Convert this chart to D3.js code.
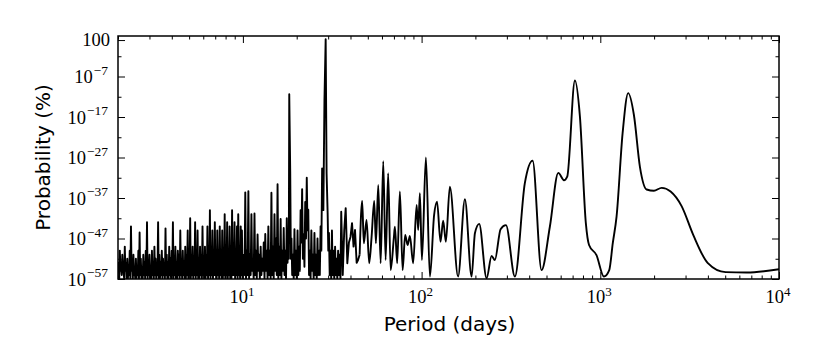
<!DOCTYPE html>
<html>
<head>
<meta charset="utf-8">
<script src="https://cdn.jsdelivr.net/npm/d3@7"></script>
<style>
  body { margin: 0; background: #fff; }
  svg { display: block; }
  .tick-label { font-family: "Liberation Serif", "DejaVu Serif", serif; fill: #000; }
  .axis-title { font-family: "DejaVu Sans", sans-serif; font-size: 20px; fill: #000; }
</style>
</head>
<body>
<svg id="chart" width="830" height="364"></svg>
<script>
// periods in days, probability given as log10 of percent

// short periods: dense noise floor
var noisePeriods = [2.000, 2.016, 2.032, 2.048, 2.065, 2.081, 2.098, 2.114, 2.131, 2.148,
  2.166, 2.183, 2.200, 2.218, 2.236, 2.254, 2.272, 2.290, 2.308, 2.326,
  2.345, 2.364, 2.383, 2.402, 2.421, 2.440, 2.460, 2.479, 2.499, 2.519,
  2.539, 2.559, 2.580, 2.600, 2.621, 2.642, 2.663, 2.684, 2.706, 2.727,
  2.749, 2.771, 2.793, 2.815, 2.838, 2.860, 2.883, 2.906, 2.930, 2.953,
  2.976, 3.000, 3.024, 3.048, 3.073, 3.097, 3.122, 3.147, 3.172, 3.197,
  3.223, 3.248, 3.274, 3.300, 3.327, 3.353, 3.380, 3.407, 3.434, 3.461,
  3.489, 3.517, 3.545, 3.573, 3.602, 3.631, 3.660, 3.689, 3.718, 3.748,
  3.778, 3.808, 3.838, 3.869, 3.900, 3.931, 3.962, 3.994, 4.026, 4.058,
  4.090, 4.123, 4.156, 4.189, 4.222, 4.256, 4.290, 4.324, 4.359, 4.393,
  4.428, 4.463, 4.499, 4.535, 4.571, 4.608, 4.645, 4.682, 4.719, 4.757,
  4.795, 4.833, 4.871, 4.910, 4.949, 4.989, 5.029, 5.069, 5.109, 5.150,
  5.191, 5.232, 5.274, 5.316, 5.359, 5.402, 5.445, 5.488, 5.532, 5.576,
  5.620, 5.665, 5.710, 5.756, 5.802, 5.848, 5.895, 5.942, 5.989, 6.037,
  6.085, 6.133, 6.182, 6.231, 6.281, 6.331, 6.382, 6.433, 6.484, 6.536,
  6.588, 6.640, 6.693, 6.746, 6.800, 6.854, 6.909, 6.964, 7.020, 7.076,
  7.132, 7.189, 7.246, 7.304, 7.362, 7.421, 7.480, 7.540, 7.600, 7.660,
  7.721, 7.783, 7.845, 7.907, 7.970, 8.034, 8.098, 8.163, 8.228, 8.293,
  8.359, 8.426, 8.493, 8.561, 8.629, 8.698, 8.767, 8.837, 8.907, 8.978,
  9.050, 9.122, 9.194, 9.268, 9.342, 9.416, 9.491, 9.567, 9.643, 9.720,
  9.797, 9.875, 9.954, 10.03, 10.11];
var noiseLogProb = [-54, -53, -57, -50, -55, -54, -56, -51, -54, -55,
  -57, -49, -55, -53, -57, -52, -57, -54, -56, -50,
  -57, -44, -55, -53, -57, -51, -56, -55, -57, -52,
  -57, -54, -56, -50, -57, -45.5, -56, -52, -57, -54,
  -57, -51, -56, -53, -57, -50, -56, -43, -57, -53,
  -56, -51, -57, -54, -57, -50, -56, -53, -57, -49,
  -56, -52, -57, -54, -56, -43, -57, -51, -57, -53,
  -56, -50, -57, -52, -56, -54, -57, -44.5, -56, -51,
  -57, -53, -57, -49, -56, -52, -57, -50, -56, -43,
  -57, -52, -56, -49, -57, -53, -57, -50, -56, -51,
  -57, -45, -56, -52, -57, -50, -56, -53, -57, -49,
  -57, -51, -56, -45, -57, -52, -56, -42, -57, -51,
  -56, -49, -57, -52, -56, -43, -57, -50, -56, -45,
  -57, -52, -57, -49, -56, -51, -57, -44, -56, -52,
  -57, -49, -57, -51, -56, -44, -57, -50, -56, -40,
  -57, -51, -56, -45, -57, -50, -56, -43, -56, -51,
  -57, -45, -56, -50, -57, -44, -56, -51, -57, -45,
  -57, -50, -56, -41, -57, -49, -56, -43, -57, -50,
  -56, -44, -57, -50, -57, -40, -56, -49, -56, -43,
  -57, -50, -56, -44, -57, -41, -56, -49, -57, -44,
  -56, -45, -57, -51, -55];

// 10 to 45 days: spikes at ~18 and ~29 days
var burstPeriods = [10.21, 10.31, 10.41, 10.52, 10.62, 10.73, 10.83, 10.94, 11.05, 11.16,
  11.27, 11.38, 11.49, 11.61, 11.72, 11.84, 11.96, 12.08, 12.20, 12.32,
  12.44, 12.57, 12.69, 12.82, 12.95, 13.08, 13.21, 13.34, 13.47, 13.61,
  13.74, 13.88, 14.02, 14.16, 14.30, 14.44, 14.58, 14.73, 14.87, 15.02,
  15.17, 15.32, 15.47, 15.63, 15.78, 15.94, 16.10, 16.26, 16.42, 16.59,
  16.75, 16.92, 17.09, 17.26, 17.43, 17.60, 17.77, 17.95, 18.06, 18.17,
  18.40, 18.55, 18.70, 18.87, 19.05, 19.24, 19.43, 19.62, 19.82, 20.02,
  20.22, 20.42, 20.62, 20.82, 21.03, 21.24, 21.45, 21.66, 21.88, 22.10,
  22.32, 22.55, 22.77, 23.00, 23.22, 23.45, 23.69, 23.92, 24.16, 24.40,
  24.64, 24.89, 25.14, 25.39, 25.64, 25.89, 26.15, 26.41, 26.68, 26.94,
  27.21, 27.48, 27.75, 28.20, 28.60, 29.05, 29.40, 29.80, 30.05, 30.30,
  30.60, 30.90, 31.20, 31.50, 31.80, 32.10, 32.45, 32.80, 33.10, 33.40,
  33.75, 34.10, 34.45, 34.80, 35.15, 35.50, 36.20, 36.90, 37.60, 38.40,
  39.20, 40.00, 40.80, 41.60, 42.40, 43.30, 44.10, 45.00];
var burstLogProb = [-56, -35.6, -57, -50, -56, -35.3, -57, -51, -56, -41,
  -55, -52, -57, -40.8, -56, -50, -57, -46, -55, -51,
  -57, -49, -56, -52, -55, -48, -57, -45.9, -55, -50,
  -57, -44, -56, -50, -57, -35.7, -56, -49, -57, -41,
  -55, -47, -56, -33.6, -57, -49, -56, -42.2, -57, -50,
  -55, -44.4, -56, -50, -57, -42, -53, -47, -52, -11.4,
  -30.5, -52, -47, -56, -51, -57, -44.7, -56, -50, -57,
  -45, -56, -49, -55, -40, -48, -34.8, -52, -46, -54,
  -38, -47, -32, -45, -39.9, -56, -50, -57, -45, -55,
  -51, -57, -45.6, -56, -51, -57, -47, -56, -50, -56,
  -44, -50, -29.7, -40, -12.8, 2.2, -31, -40.8, -50, -45.6,
  -56, -50, -57, -45, -56, -50, -57, -49, -56, -52,
  -57, -50, -56, -51, -57, -40.4, -56, -45, -39.5, -53.1,
  -48, -46.6, -43.2, -49, -44.9, -53, -52.3, -51];

// long periods: resolved peaks
var longPeriods = [46.5, 47.5, 49.2, 50.9, 52.5, 54.3, 55.5, 57.2, 59.0, 61.0,
  62.9, 65.0, 67.1, 70.0, 70.9, 73.0, 75.6, 78.3, 80.9, 83.5,
  86.0, 89.7, 93.8, 95.7, 97.8, 100.4, 105.7, 111.3, 117.5, 122,
  127.6, 132, 136.7, 143.9, 160, 174.7, 190.4, 198.8, 210, 231,
  246.5, 257, 276.7, 296.5, 332.7, 378, 418, 469, 522, 582,
  626, 653, 721, 769, 830, 865, 952, 1047, 1122, 1175,
  1233, 1333, 1432, 1542, 1666, 1817, 1996, 2205, 2474, 2851,
  3311, 3985, 5024, 6589, 10000];
var longLogProb = [-37.7, -48.2, -42.4, -53.1, -46.6, -37.7, -48.2, -33.8, -53.1, -27.9,
  -52.3, -30.9, -54.8, -46.6, -44.1, -53.1, -35.4, -54.8, -46.1, -48.6,
  -46.4, -53.1, -38.7, -44.9, -35.8, -52.3, -27.0, -56.4, -41.2, -37.9,
  -47.8, -42.6, -47.8, -34.2, -56.4, -37.3, -56.4, -45.7, -43.4, -56.8,
  -51.3, -52.3, -44.7, -43.7, -56.4, -33.4, -27.8, -54.8, -44.1, -30.8,
  -32.6, -31.7, -8.0, -16.9, -43.2, -48.6, -51.1, -56.4, -54.8, -48.1,
  -41.6, -21, -11.1, -16.5, -29.3, -34.9, -35.2, -34.5, -35.4, -39,
  -46.1, -53, -55.3, -55.4, -54.6];

var xMajor = [10, 100, 1000, 10000];
var yMajorExp = [-57, -47, -37, -27, -17, -7];
var yMinorExp = [-52, -42, -32, -22, -12, -2];
var yTopTick = 100;

var svg = d3.select("#chart"),
    margin = {top: 36, right: 51, bottom: 85, left: 118},
    width = +svg.attr("width") - margin.left - margin.right,
    height = +svg.attr("height") - margin.top - margin.bottom;

var g = svg.append("g")
    .attr("transform", "translate(" + margin.left + "," + margin.top + ")");

var x = d3.scaleLog().domain([2, 1e4]).range([0, width]),
    y = d3.scaleLog().domain([1e-57, 1e3]).range([height, 0]);

function toPoints(periods, logProb) {
  return d3.zip(periods, logProb).map(d => ({period: d[0], prob: Math.pow(10, d[1])}));
}

// spiky part drawn straight, resolved peaks drawn smooth
var spiky = toPoints(noisePeriods, noiseLogProb).concat(toPoints(burstPeriods, burstLogProb)),
    smooth = spiky.slice(-1).concat(toPoints(longPeriods, longLogProb));

g.append("clipPath").attr("id", "clip")
  .append("rect").attr("width", width).attr("height", height);

var line = d3.line()
    .x(d => x(d.period))
    .y(d => y(d.prob));

g.selectAll("path.series")
    .data([[spiky, d3.curveLinear], [smooth, d3.curveMonotoneX]])
    .enter()
    .append("path")
    .attr("class", "series")
    .attr("clip-path", "url(#clip)")
    .attr("fill", "none")
    .attr("stroke", "#000")
    .attr("stroke-width", 1.9)
    .attr("stroke-linejoin", "round")
    .attr("d", d => line.curve(d[1])(d[0]));

// ticks point inwards on all four sides
var xMinor = x.ticks().filter(v => xMajor.indexOf(v) < 0),
    yMajor = yMajorExp.map(e => Math.pow(10, e)).concat([yTopTick]),
    yMinor = yMinorExp.map(e => Math.pow(10, e));

function ticks(axis, values, size, tx, ty) {
  g.append("g")
      .attr("transform", "translate(" + tx + "," + ty + ")")
      .call(axis.tickValues(values).tickSize(-size).tickFormat(""))
      .call(s => s.select(".domain").remove())
      .call(s => s.selectAll("line").attr("stroke", "#000").attr("stroke-width", 1));
}

ticks(d3.axisBottom(x), xMajor, 7, 0, height);
ticks(d3.axisBottom(x), xMinor, 3.5, 0, height);
ticks(d3.axisTop(x), xMajor, 7, 0, 0);
ticks(d3.axisTop(x), xMinor, 3.5, 0, 0);
ticks(d3.axisLeft(y), yMajor, 7, 0, 0);
ticks(d3.axisLeft(y), yMinor, 3.5, 0, 0);
ticks(d3.axisRight(y), yMajor, 7, width, 0);
ticks(d3.axisRight(y), yMinor, 3.5, width, 0);

g.append("rect")
    .attr("width", width)
    .attr("height", height)
    .attr("fill", "none")
    .attr("stroke", "#000")
    .attr("stroke-width", 1.5);

// tick labels, 10^n style
xMajor.forEach(function(v) {
  var t = g.append("text")
      .attr("class", "tick-label")
      .attr("x", x(v) - 1)
      .attr("y", height + 24)
      .attr("text-anchor", "middle")
      .style("font-size", "18.5px");
  t.append("tspan").text("10");
  t.append("tspan").attr("dy", -7.5).style("font-size", "13px").text(Math.round(Math.log10(v)));
});

yMajorExp.forEach(function(e) {
  var t = g.append("text")
      .attr("class", "tick-label")
      .attr("x", -10)
      .attr("y", y(Math.pow(10, e)) + 6.5)
      .attr("text-anchor", "end")
      .style("font-size", "18.5px");
  t.append("tspan").text("10");
  t.append("tspan").attr("dy", -8.5).attr("dx", 1).style("font-size", "13.5px").text("\u2212" + Math.abs(e));
});

g.append("text")
    .attr("class", "tick-label")
    .attr("x", -8)
    .attr("y", y(yTopTick) + 6)
    .attr("text-anchor", "end")
    .style("font-size", "18.5px")
    .text("100");

g.append("text")
    .attr("class", "axis-title")
    .attr("x", width / 2 + 1)
    .attr("y", height + 52)
    .attr("text-anchor", "middle")
    .text("Period (days)");

g.append("text")
    .attr("class", "axis-title")
    .attr("transform", "translate(-68," + (height / 2) + ") rotate(-90)")
    .attr("text-anchor", "middle")
    .text("Probability (%)");
</script>
</body>
</html>
